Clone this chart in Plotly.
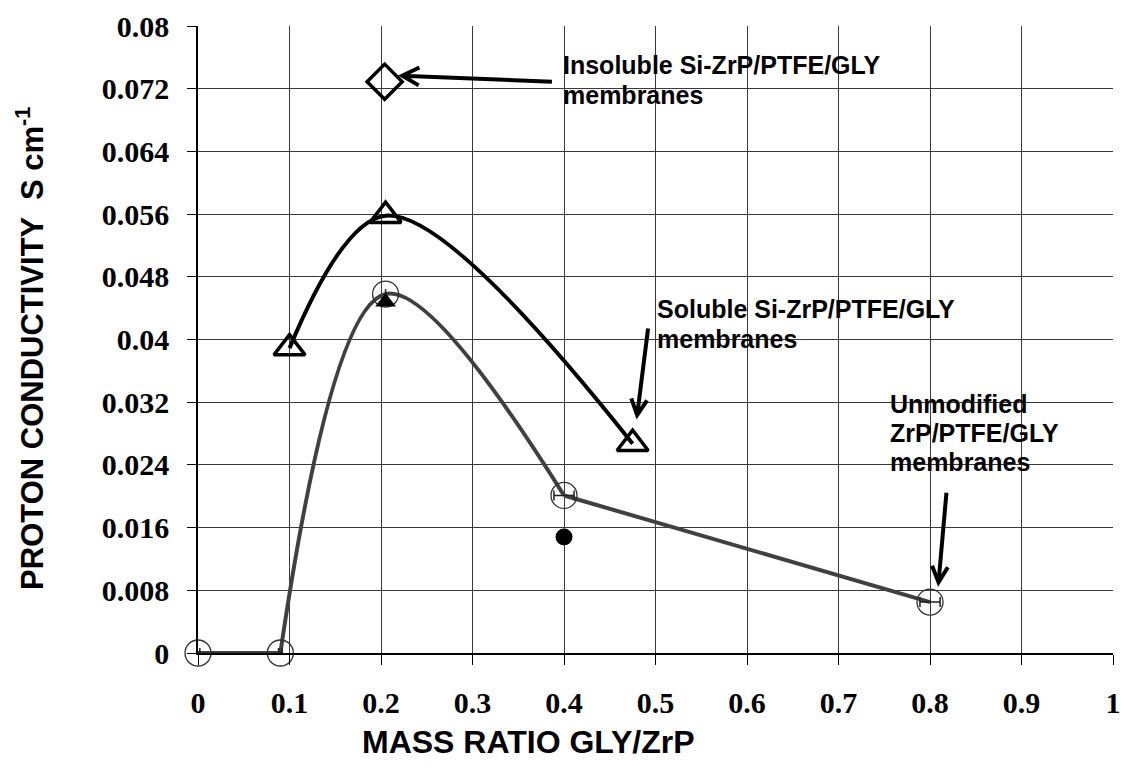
import plotly.graph_objects as go

# ---------------- data ----------------
circle_x = [0.0, 0.09, 0.205, 0.40, 0.80]          # Unmodified ZrP/PTFE/GLY
circle_y = [0.0, 0.0, 0.0458, 0.0201, 0.0065]
circle_err = [0.002, 0.002, 0.0, 0.011, 0.011]

tri_x = [0.10, 0.205, 0.475]                      # Soluble Si-ZrP/PTFE/GLY
tri_y = [0.0389, 0.0558, 0.0267]

dia_x = [0.204]                                   # Insoluble Si-ZrP/PTFE/GLY
dia_y = [0.0729]

ftri_x = [0.205]                                  # filled triangle
ftri_y = [0.0448]
fcir_x = [0.40]                                   # filled circle
fcir_y = [0.0148]

x_ticks = [0, 0.1, 0.2, 0.3, 0.4, 0.5, 0.6, 0.7, 0.8, 0.9, 1]
x_tick_text = ["0", "0.1", "0.2", "0.3", "0.4", "0.5", "0.6", "0.7", "0.8", "0.9", "1"]
y_ticks = [0, 0.008, 0.016, 0.024, 0.032, 0.04, 0.048, 0.056, 0.064, 0.072, 0.08]
y_tick_text = ["0", "0.008", "0.016", "0.024", "0.032", "0.04", "0.048", "0.056",
               "0.064", "0.072", "0.08"]

label_insoluble = ["Insoluble Si-ZrP/PTFE/GLY", "membranes"]
label_soluble = ["Soluble Si-ZrP/PTFE/GLY", "membranes"]
label_unmod = ["Unmodified", "ZrP/PTFE/GLY", "membranes"]

# ---------------- layout geometry ----------------
W, H = 1130, 771
L, R, T, B = 198, 1121, 23, 653     # plot area in pixels


def ppx(px):
    return (px - L) / (R - L)


def ppy(py):
    return (B - py) / (B - T)


GRAY = "#404040"
fig = go.Figure()

# gray curve (unmodified): flat, smooth rise/fall, straight tail
fig.add_trace(go.Scatter(x=circle_x[0:2], y=circle_y[0:2], mode="lines",
                         line=dict(color=GRAY, width=4), hoverinfo="skip",
                         cliponaxis=False))
fig.add_trace(go.Scatter(x=circle_x[1:4], y=circle_y[1:4], mode="lines",
                         line=dict(color=GRAY, width=4, shape="spline", smoothing=1.0),
                         hoverinfo="skip", cliponaxis=False))
fig.add_trace(go.Scatter(x=circle_x[3:5], y=circle_y[3:5], mode="lines",
                         line=dict(color=GRAY, width=4), hoverinfo="skip",
                         cliponaxis=False))

# black curve (soluble)
fig.add_trace(go.Scatter(x=tri_x, y=tri_y, mode="lines",
                         line=dict(color="black", width=4, shape="spline", smoothing=1.0),
                         hoverinfo="skip", cliponaxis=False))

# markers
fig.add_trace(go.Scatter(x=circle_x, y=circle_y, mode="markers",
                         marker=dict(symbol="circle-open", size=26, color="#303030",
                                     line=dict(color="#303030", width=1.3)),
                         error_x=dict(type="data", array=circle_err, color="#202020",
                                      thickness=1.5, width=5),
                         cliponaxis=False))
fig.add_trace(go.Scatter(x=tri_x, y=tri_y, mode="markers",
                         marker=dict(symbol="triangle-up-open", size=27, color="black",
                                     line=dict(color="black", width=3.5)),
                         cliponaxis=False))
fig.add_trace(go.Scatter(x=dia_x, y=dia_y, mode="markers",
                         marker=dict(symbol="diamond-open", size=27, color="black",
                                     line=dict(color="black", width=3.5)),
                         cliponaxis=False))
fig.add_trace(go.Scatter(x=ftri_x, y=ftri_y, mode="markers",
                         marker=dict(symbol="triangle-up", size=18, color="black"),
                         cliponaxis=False))
fig.add_trace(go.Scatter(x=fcir_x, y=fcir_y, mode="markers",
                         marker=dict(symbol="circle", size=17, color="black"),
                         cliponaxis=False))

shapes = []
# white label boxes over the grid
for (x0, y0, x1, y1) in [(555, 38, 910, 123), (653, 288, 1000, 350), (883, 382, 1100, 487)]:
    shapes.append(dict(type="rect", xref="paper", yref="paper",
                       x0=ppx(x0), x1=ppx(x1), y0=ppy(y1), y1=ppy(y0),
                       fillcolor="white", line=dict(width=0), layer="between"))


def arrow(tail, head, wing_back, wing_half):
    tx, ty = tail
    hx, hy = head
    vx, vy = hx - tx, hy - ty
    n = (vx ** 2 + vy ** 2) ** 0.5
    ux, uy = vx / n, vy / n
    nx, ny = -uy, ux
    w1 = (hx - ux * wing_back + nx * wing_half, hy - uy * wing_back + ny * wing_half)
    w2 = (hx - ux * wing_back - nx * wing_half, hy - uy * wing_back - ny * wing_half)
    path = "M {:.5f},{:.5f} L {:.5f},{:.5f} M {:.5f},{:.5f} L {:.5f},{:.5f} L {:.5f},{:.5f}".format(
        ppx(tx), ppy(ty), ppx(hx), ppy(hy),
        ppx(w1[0]), ppy(w1[1]), ppx(hx), ppy(hy), ppx(w2[0]), ppy(w2[1]))
    return dict(type="path", xref="paper", yref="paper", path=path,
                line=dict(color="black", width=4), layer="above")


shapes.append(arrow((555, 79), (404, 73), 17, 9))
shapes.append(arrow((652, 327), (641, 414), 16, 8))
shapes.append(arrow((953, 492), (945, 582), 16, 8))

LBL = dict(family="Liberation Sans", size=25, color="black")
annotations = []


def add_label(lines, left, centers):
    for txt, cy in zip(lines, centers):
        annotations.append(dict(x=ppx(left), y=ppy(cy), xref="paper", yref="paper",
                                xanchor="left", yanchor="middle", align="left",
                                showarrow=False, font=LBL, text="<b>" + txt + "</b>"))


add_label(label_insoluble, 564, [62, 92])
add_label(label_soluble, 659, [307, 337])
add_label(label_unmod, 894, [403, 432, 461])

annotations.append(dict(x=ppx(531), y=ppy(742), xref="paper", yref="paper",
                        xanchor="center", yanchor="middle", showarrow=False,
                        font=dict(family="Liberation Sans", size=32, color="black"),
                        text="<b>MASS RATIO GLY/ZrP</b>"))
annotations.append(dict(x=ppx(29), y=ppy(347), xref="paper", yref="paper",
                        xanchor="center", yanchor="middle", showarrow=False, textangle=-90,
                        font=dict(family="Liberation Sans", size=31, color="black"),
                        text="<b>PROTON CONDUCTIVITY  S cm<sup>-1</sup></b>"))

TICKF = dict(family="Liberation Serif", size=30, color="black", weight="bold")

fig.update_layout(
    width=W, height=H,
    margin=dict(l=L, r=W - R, t=T, b=H - B),
    paper_bgcolor="white", plot_bgcolor="white",
    showlegend=False,
    shapes=shapes, annotations=annotations,
    xaxis=dict(range=[0, 1], tickmode="array", tickvals=x_ticks, ticktext=x_tick_text,
               showgrid=True, gridcolor="#3a3a3a", gridwidth=1,
               showline=True, linecolor="black", linewidth=1.5,
               ticks="outside", ticklen=10, tickcolor="black", tickwidth=1,
               ticklabelstandoff=12,
               tickfont=TICKF, zeroline=False, fixedrange=True),
    yaxis=dict(range=[0, 0.08], tickmode="array", tickvals=y_ticks, ticktext=y_tick_text,
               showgrid=True, gridcolor="#3a3a3a", gridwidth=1,
               showline=True, linecolor="black", linewidth=1.5,
               ticks="outside", ticklen=9, tickcolor="black", tickwidth=1,
               ticklabelstandoff=12,
               tickfont=TICKF, zeroline=False, fixedrange=True),
)

fig.write_html("out.html")
